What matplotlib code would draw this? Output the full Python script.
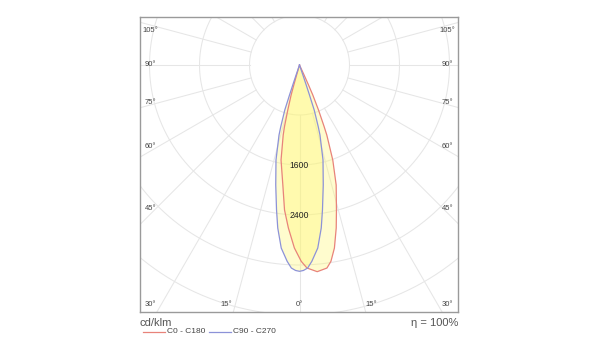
import numpy as np
import matplotlib
matplotlib.use("Agg")
import matplotlib.pyplot as plt

plt.rcParams['font.family'] = ['Liberation Sans', 'DejaVu Sans']

# ---- data (cd/klm vs gamma in degrees) ----
# C0 - C180 plane: signed gamma (negative = C180 side, positive = C0 side)
c0_gamma = [-16.5, -16.2, -15.9, -15.6, -14.6, -13.7, -13.1, -11.0, -7.9, -5.9, -3.9, -1.6,
            0.5, 2.1, 4.9, 7.7, 9.1, 10.8, 12.7, 14.3, 17.0, 19.3, 21.3, 21.8, 22.9, 23.9,
            24.3, 24.6, 25.0]
c0_value = [0, 170, 333, 498, 744, 1016, 1150, 1548, 1939, 2332, 2614, 2929,
            3141, 3250, 3319, 3278, 3181, 2981, 2673, 2394, 2007, 1611, 1203, 1061, 782, 525,
            346, 170, 0]
# C90 - C270 plane (symmetric): gamma >= 0
c90_gamma = [0.0, 1.1, 2.3, 3.6, 5.7, 7.6, 9.0, 11.2, 13.9, 16.3, 16.9, 18.1, 18.4, 18.6,
             18.8, 19.0]
c90_value = [3301, 3288, 3251, 3147, 2943, 2631, 2349, 1957, 1566, 1167, 1031, 757, 506, 337,
             169, 0]

ring_values = [800, 1600, 2400, 3200, 4000]
ring_labels = ["1600", "2400"]
left_angle_labels = ["105°", "90°", "75°", "60°", "45°"]
bottom_angle_labels = ["30°", "15°", "0°", "15°", "30°"]
legend_labels = ["C0 - C180", "C90 - C270"]
unit_text = "cd/klm"
eta_text = "η = 100%"

RED = "#e8837a"
BLUE = "#8c92d8"
FILL = (1.0, 0.97, 0.45)
GRID = "#e6e6e6"
TXT = "#444444"

fig = plt.figure(figsize=(6, 3.6), dpi=100)
ax = fig.add_axes([140 / 600, 48 / 360, 318 / 600, 295 / 360])
S = 16.0  # units per pixel
ax.set_xlim(-159.5 * S, 158.5 * S)
ax.set_ylim(-247 * S, 48 * S)
ax.set_aspect('equal')
ax.set_xticks([])
ax.set_yticks([])
for sp in ax.spines.values():
    sp.set_color("#9a9a9a")
    sp.set_linewidth(1.0)

# grid circles
t = np.linspace(0, 2 * np.pi, 400)
for rv in ring_values:
    ax.plot(rv * np.cos(t), rv * np.sin(t), color=GRID, lw=0.75, zorder=1)
# radial lines every 15 deg, starting at first ring
for a in range(0, 360, 15):
    ar = np.deg2rad(a)
    ax.plot([800 * np.sin(ar), 8000 * np.sin(ar)], [-800 * np.cos(ar), -8000 * np.cos(ar)],
            color=GRID, lw=0.75, zorder=1)


def to_xy(gam, val):
    g = np.deg2rad(np.asarray(gam, float))
    v = np.asarray(val, float)
    return v * np.sin(g), -v * np.cos(g)


rx, ry = to_xy(c0_gamma, c0_value)
bg = np.concatenate([-np.array(c90_gamma[::-1]), np.array(c90_gamma[1:])])
bv = np.concatenate([np.array(c90_value[::-1]), np.array(c90_value[1:])])
bx, by = to_xy(bg, bv)

ax.fill(rx, ry, color=FILL, alpha=0.35, lw=0, zorder=2)
ax.fill(bx, by, color=FILL, alpha=0.35, lw=0, zorder=2)
ax.plot(rx, ry, color=RED, lw=0.9, zorder=3, solid_joinstyle='round')
ax.plot(bx, by, color=BLUE, lw=0.9, zorder=3, solid_joinstyle='round')

# ring labels
for lab in ring_labels:
    v = float(lab)
    ax.text(0, -v, lab, ha='center', va='center', fontsize=6.2, color="#222222", zorder=4)

# angle labels (left / right edges)
left_y = [544, 0, -608, -1312, -2304]
for lab, yy in zip(left_angle_labels, left_y):
    ax.text(-2384, yy, lab, ha='center', va='center', fontsize=5.5, color=TXT)
    ax.text(2368, yy, lab, ha='center', va='center', fontsize=5.5, color=TXT)
bottom_x = [-2384, -1168, 0, 1152, 2368]
for lab, xx in zip(bottom_angle_labels, bottom_x):
    ax.text(xx, -3840, lab, ha='center', va='center', fontsize=5.5, color=TXT)

# texts below
fig.text(140 / 600, 1 - 323 / 360, unit_text, ha='left', va='center', fontsize=8, color="#555555")
fig.text(458 / 600, 1 - 323 / 360, eta_text, ha='right', va='center', fontsize=8, color="#555555")

# legend
ly = 1 - 331.5 / 360
fig.add_artist(plt.Line2D([143 / 600, 165 / 600], [ly, ly], color=RED, lw=0.9))
fig.text(167 / 600, ly, legend_labels[0], ha='left', va='center', fontsize=6, color=TXT)
fig.add_artist(plt.Line2D([209 / 600, 231 / 600], [ly, ly], color=BLUE, lw=0.9))
fig.text(233 / 600, ly, legend_labels[1], ha='left', va='center', fontsize=6, color=TXT)

fig.savefig("out.png", dpi=100, facecolor="white")
